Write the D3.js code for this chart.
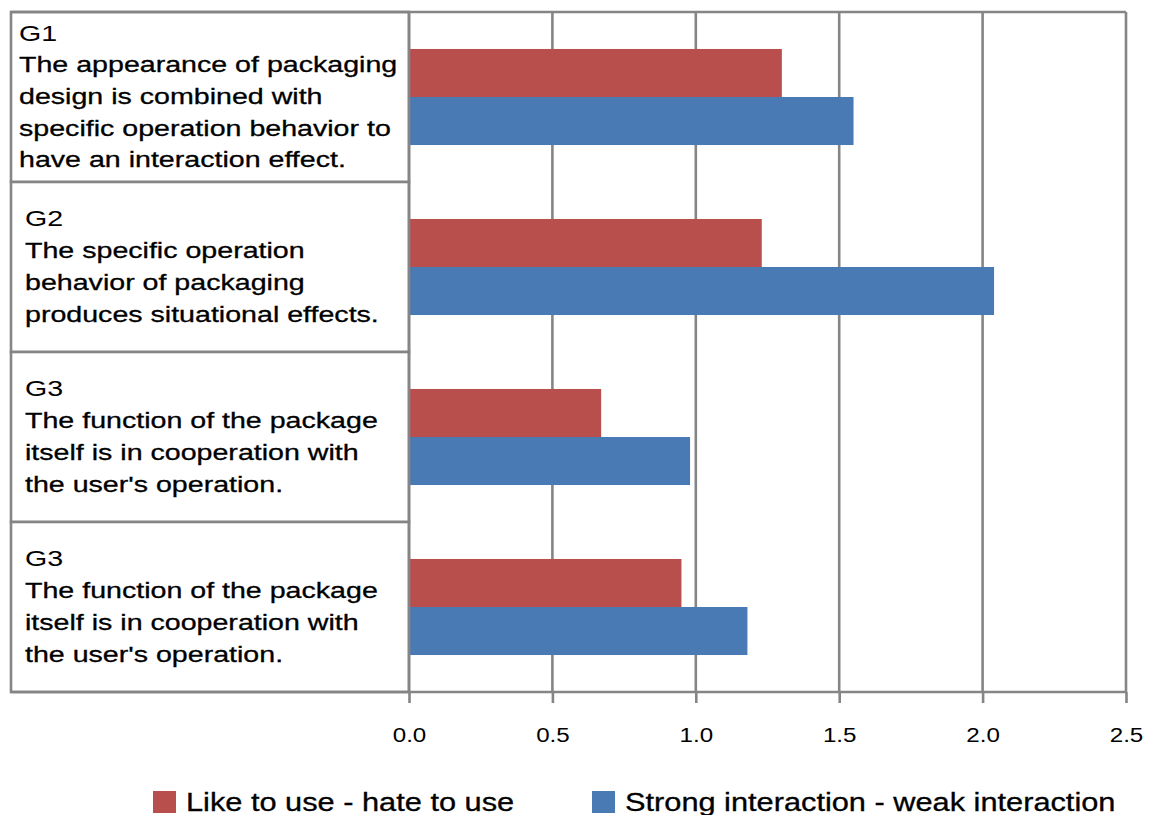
<!DOCTYPE html>
<html>
<head>
<meta charset="utf-8">
<script src="https://cdn.jsdelivr.net/npm/d3@7"></script>
<style>
  html, body { margin: 0; padding: 0; background: #fff; }
  svg { display: block; }
  text { font-family: "Liberation Sans", Arial, sans-serif; fill: #000; }
</style>
</head>
<body>
<svg id="chart" width="1150" height="815"></svg>
<script>
// ---- data ----
const groupCodes = ["G1", "G2", "G3", "G3"];
const groupTexts = [
  ["The appearance of packaging", "design is combined with", "specific operation behavior to", "have an interaction effect."],
  ["The specific operation", "behavior of packaging", "produces situational effects."],
  ["The function of the package", "itself is in cooperation with", "the user's operation."],
  ["The function of the package", "itself is in cooperation with", "the user's operation."]
];
const seriesNames = ["Like to use - hate to use", "Strong interaction - weak interaction"];
const likeHate = [1.30, 1.23, 0.67, 0.95];
const strongWeak = [1.55, 2.04, 0.98, 1.18];
const xTickValues = [0, 0.5, 1.0, 1.5, 2.0, 2.5];
const xTickLabels = ["0.0", "0.5", "1.0", "1.5", "2.0", "2.5"];
const seriesColors = ["#B84F4C", "#4A7AB3"];

// ---- layout ----
const svg = d3.select("#chart");
const boxLeft = 11, plotLeft = 409, plotRight = 1126, plotTop = 12, plotBottom = 692;
const gridColor = "#858585";
const labelIndent = [8, 14, 14, 14];

const x = d3.scaleLinear().domain([0, 2.5]).range([plotLeft, plotRight]);
const y = d3.scaleBand().domain(d3.range(groupCodes.length)).range([plotTop, plotBottom]).padding(0);
const ySeries = d3.scaleBand().domain([0, 1]).range([0, y.bandwidth()]).paddingInner(0).paddingOuter(0.77);

// label boxes
const boxes = svg.append("g");
groupCodes.forEach((code, i) => {
  boxes.append("rect")
    .attr("x", boxLeft).attr("y", y(i))
    .attr("width", plotLeft - boxLeft).attr("height", y.bandwidth())
    .attr("fill", "#fff").attr("stroke", gridColor).attr("stroke-width", 2.6);
  const lines = [code].concat(groupTexts[i]);
  const lh = 31.7;
  const cy = y(i) + y.bandwidth() / 2;
  const first = cy - (lines.length - 1) * lh / 2 + 7;
  lines.forEach((ln, j) => {
    boxes.append("text")
      .attr("transform", `translate(${boxLeft + labelIndent[i]},${first + j * lh}) scale(1.3,1)`)
      .attr("font-size", 22)
      .attr("stroke", j === 0 ? "none" : "#000").attr("stroke-width", 0.3)
      .text(ln);
  });
});

// plot frame top
svg.append("line")
  .attr("x1", boxLeft).attr("x2", plotRight)
  .attr("y1", plotTop).attr("y2", plotTop)
  .attr("stroke", gridColor).attr("stroke-width", 2.6);

// gridlines
svg.append("g").selectAll("line").data(xTickValues.slice(1)).join("line")
  .attr("x1", d => x(d)).attr("x2", d => x(d))
  .attr("y1", plotTop).attr("y2", plotBottom)
  .attr("stroke", gridColor).attr("stroke-width", 2.6);

// bars
const series = [likeHate, strongWeak];
series.forEach((vals, s) => {
  svg.append("g").selectAll("rect").data(vals).join("rect")
    .attr("x", x(0))
    .attr("y", (d, i) => y(i) + ySeries(s))
    .attr("width", d => x(d) - x(0))
    .attr("height", ySeries.bandwidth())
    .attr("fill", seriesColors[s]);
});

// left axis line (plot left)
svg.append("line")
  .attr("x1", plotLeft).attr("x2", plotLeft)
  .attr("y1", plotTop).attr("y2", plotBottom)
  .attr("stroke", gridColor).attr("stroke-width", 2.6);

// bottom axis
const xAxis = d3.axisBottom(x).tickValues(xTickValues).tickFormat((d, i) => xTickLabels[i]).tickSize(11).tickSizeOuter(0);
const ax = svg.append("g").attr("transform", `translate(0,${plotBottom})`).call(xAxis);
ax.select(".domain").remove();
ax.selectAll(".tick line").attr("stroke", gridColor).attr("stroke-width", 2.6);
ax.selectAll(".tick text").remove();
ax.selectAll(".tick").append("text")
  .attr("transform", "translate(0,50) scale(1.15,1)")
  .attr("text-anchor", "middle")
  .attr("font-size", 21)
  .attr("fill", "#222")
  .style("font-family", '"Liberation Sans", Arial, sans-serif')
  .text((d, i) => xTickLabels[i]);
svg.append("line")
  .attr("x1", boxLeft).attr("x2", plotRight)
  .attr("y1", plotBottom).attr("y2", plotBottom)
  .attr("stroke", gridColor).attr("stroke-width", 2.6);

// legend
const legendX = [153, 592];
const legend = svg.append("g");
seriesNames.forEach((name, s) => {
  legend.append("rect")
    .attr("x", legendX[s]).attr("y", 791)
    .attr("width", 23).attr("height", 22)
    .attr("fill", seriesColors[s]);
  legend.append("text")
    .attr("transform", `translate(${legendX[s] + 33},811) scale(1.23,1)`)
    .attr("font-size", 25)
    .attr("stroke", "#000").attr("stroke-width", 0.3)
    .text(name);
});
</script>
</body>
</html>
